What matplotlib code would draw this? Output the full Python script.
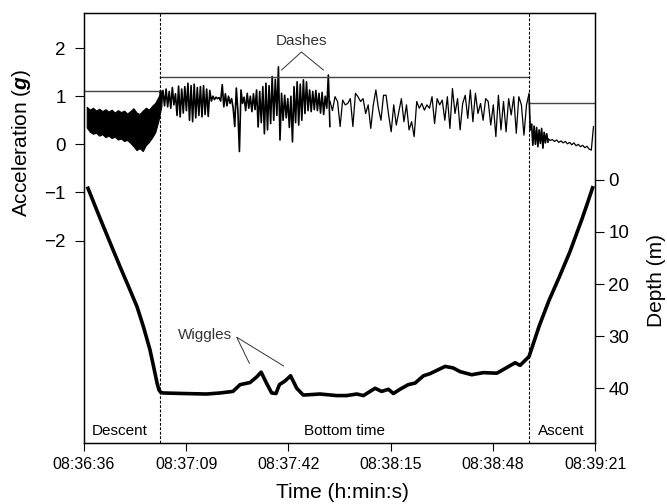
import numpy as np
import matplotlib
matplotlib.use('Agg')
import matplotlib.pyplot as plt
from matplotlib.ticker import FuncFormatter

plt.rcParams['font.family'] = ['Liberation Sans', 'DejaVu Sans']
plt.rcParams['mathtext.fontset'] = 'custom'
plt.rcParams['mathtext.bfit'] = 'Liberation Sans:italic:bold'
plt.rcParams['mathtext.rm'] = 'Liberation Sans'

# time in seconds after 08:36:36
T0 = 8 * 3600 + 36 * 60 + 36
t_descent_end = 24.5
t_ascent_start = 143.7

# acceleration (g) -- descent: dense band, upper / lower envelope
desc_upper = [0.78, 0.72, 0.76, 0.70, 0.74, 0.69, 0.73, 0.68, 0.72, 0.66, 0.71, 0.67, 0.70,
              0.64, 0.69, 0.75, 0.66, 0.63, 0.70, 0.76, 0.72, 0.80, 0.86, 0.98, 1.12]
desc_lower = [0.35, 0.26, 0.22, 0.24, 0.18, 0.21, 0.15, 0.18, 0.13, 0.16, 0.10, 0.12, 0.07,
              0.09, 0.03, -0.04, -0.12, -0.08, -0.14, -0.02, 0.05, 0.14, 0.25, 0.48, 0.80]

# bottom phase, busy first part (08:37:00 - 08:37:55)
bottom_dense = [1.10, 0.85, 1.12, 0.80,
                1.15, 0.78, 1.10, 0.75, 1.18, 0.82, 1.05,
                0.60, 1.21, 0.57, 1.15, 0.65, 1.20, 0.70,
                1.27, 0.50, 1.22, 0.47, 1.25, 0.55, 1.18,
                0.60, 1.20, 0.57, 1.22, 0.62, 1.15, 0.58, 1.12,
                0.90, 1.00, 0.93, 0.98, 0.95, 0.97,
                0.90, 1.24, 0.78, 1.05, 0.80, 1.00, 0.85, 0.95, 0.75,
                0.37, 1.17, 0.70, -0.15, 1.13, 0.85, 0.98, 0.70,
                1.06, 0.75, 1.00, 0.68, 1.05, 0.72,
                1.13, 0.36, 1.10, 0.45, 1.20,
                0.22, 1.27, 0.30, 1.22,
                0.43, 1.41, 0.50, 1.35, 0.60,
                1.61, 0.09,
                1.06, 0.50, 1.02, 0.55, 0.95, 0.35, 1.00,
                0.05, 1.20, 0.45, 1.30, 0.40, 1.25, 0.50,
                1.34, 0.64, 1.30, 0.70,
                1.13, 0.68, 1.10, 0.72, 1.12, 0.70,
                1.06, 0.65, 1.08, 0.62, 1.00, 0.75,
                1.44, 0.37]
t_dense_end = 79.4

# bottom phase, calmer second part
bottom_sparse = [0.90, 0.70, 0.99, 0.89, 0.37, 0.92, 0.82, 0.85, 0.95, 0.37, 1.06, 0.99,
                 0.89, 0.95, 0.64, 0.82, 0.33, 0.82, 1.13, 0.75, 0.50, 1.02, 1.02, 0.61,
                 0.26, 0.82, 0.40, 0.68, 0.95, 0.47, 0.82, 0.30, 0.47, 0.16,
                 0.89, 0.75, 0.85, 0.71, 0.82, 0.75, 0.99, 0.43, 0.95, 0.82, 0.92, 0.50,
                 0.99, 0.33, 1.16, 0.64, 0.95, 0.30, 0.85, 1.02, 0.54, 1.13, 0.47, 1.06,
                 0.64, 0.85, 0.50, 0.95, 0.89, 0.40, 0.82, 0.16, 1.02, 0.30,
                 0.89, 0.26, 0.95, 0.61, 0.99, 0.23, 0.99, 0.82, 0.19, 0.82, 1.06]

# ascent
ascent_dense = [1.00, 0.30, 0.42, -0.02, 0.38, 0.00, 0.35, -0.05, 0.30, 0.02, 0.33, -0.08,
                0.25, 0.03, 0.22, 0.05]
t_ascent_dense_end = 149.8
ascent_tail = [0.12, 0.08, 0.10, 0.06, 0.09, 0.04, 0.07, 0.03, 0.06, 0.01, 0.04, -0.01,
               0.03, -0.03, 0.00, -0.05, -0.02, -0.07, -0.04, -0.10, -0.12, 0.37]
t_end = 164.5

# threshold per phase (descent, bottom, ascent)
thresholds = [1.10, 1.39, 0.865]

# depth profile (s, m)
depth_t = [1.07, 5.2, 9.36, 11.6, 14.4, 17.1, 19.2, 21.3, 22.5, 23.6, 24.2, 24.8, 25.6,
           32.0, 39.6, 43.9, 48.1,
           50.4, 53.6, 55.8, 57.2, 59.0, 60.6, 62.0, 63.1, 64.9, 66.7, 68.7, 70.8, 76.2,
           81.6, 84.8, 88.1, 90.2, 94.0, 96.1, 98.3, 99.9, 102.0, 104.7, 106.9, 109.6,
           111.7, 116.6, 119.2, 121.4, 125.2, 128.9, 133.3, 135.4, 139.2, 140.8, 143.7,
           147.0, 150.1, 153.5, 156.9, 160.8, 162.6, 164.4]
depth_m = [1.3, 7.4, 13.4, 16.6, 20.5, 24.3, 28.2, 32.6, 35.9, 39.0, 40.3, 40.8, 40.9,
           41.0, 41.1, 40.9, 40.6,
           39.3, 38.9, 37.8, 36.9, 39.1, 40.9, 41.0, 39.3, 38.6, 37.6, 40.0, 41.3, 41.1,
           41.4, 41.4, 41.1, 41.4, 40.0, 40.6, 40.2, 41.0, 40.2, 39.3, 39.0, 37.6,
           37.2, 35.8, 36.1, 36.8, 37.4, 37.0, 37.1, 36.4, 35.1, 35.6, 33.9,
           28.0, 23.2, 18.6, 13.8, 7.5, 4.4, 1.2]

fig = plt.figure(figsize=(6.67, 5.04), dpi=100)
ax = fig.add_axes([0.1259, 0.121, 0.7662, 0.8532])
ax2 = ax.twinx()

# acceleration
td = np.linspace(0.9, 25.0, len(desc_upper))
ax.fill_between(td, desc_lower, desc_upper, color='black', lw=0.8)
tb1 = np.linspace(t_descent_end, t_dense_end, len(bottom_dense))
tb2 = np.linspace(t_dense_end, t_ascent_start, len(bottom_sparse))
ta1 = np.linspace(t_ascent_start, t_ascent_dense_end, len(ascent_dense))
ta2 = np.linspace(t_ascent_dense_end, t_end, len(ascent_tail))
ax.plot(tb1, bottom_dense, color='black', lw=1.2)
ax.plot(tb2, bottom_sparse, color='black', lw=0.9)
ax.plot(ta1, ascent_dense, color='black', lw=1.2)
ax.plot(np.concatenate([ta1[-1:], ta2]), np.concatenate([ascent_dense[-1:], ascent_tail]),
        color='black', lw=0.9)

# thresholds
edges = [0, t_descent_end, t_ascent_start, 165]
for i, th in enumerate(thresholds):
    ax.plot([edges[i], edges[i + 1]], [th, th], color='#444444', lw=1.0)

# phase boundaries
for tb in (t_descent_end, t_ascent_start):
    ax.axvline(tb, color='black', lw=0.8, ls=(0, (2.5, 1.5)))

# depth
ax2.plot(depth_t, depth_m, color='black', lw=2.6, solid_capstyle='butt',
         solid_joinstyle='round')

ax.set_xlim(0, 165)
ax.set_ylim(-6.21, 2.73)
ax2.set_ylim(50.5, -32)
ax.set_xticks(np.arange(0, 166, 33))
ax.xaxis.set_major_formatter(FuncFormatter(
    lambda s, p: '%02d:%02d:%02d' % ((T0 + s) // 3600, (T0 + s) % 3600 // 60, (T0 + s) % 60)))
ax.set_yticks([-2, -1, 0, 1, 2])
ax2.set_yticks([0, 10, 20, 30, 40])

ax.tick_params(axis='x', direction='out', length=6, width=0.8, labelsize=11.5, pad=4)
ax.tick_params(axis='y', direction='out', length=6.5, width=0.8, labelsize=13.5, pad=6.5)
ax2.tick_params(axis='y', direction='out', length=6.5, width=0.8, labelsize=13.5, pad=3)
for a in (ax, ax2):
    for sp in a.spines.values():
        sp.set_linewidth(0.9)

ax.text(-0.123, 0.698, r'Acceleration ($\mathbfit{g}$)', transform=ax.transAxes,
        rotation=90, ha='center', va='center', fontsize=15)
ax2.text(1.12, 0.377, 'Depth (m)', transform=ax2.transAxes,
         rotation=90, ha='center', va='center', fontsize=15)
ax.text(0.506, -0.114, 'Time (h:min:s)', transform=ax.transAxes,
        ha='center', va='center', fontsize=15)

# phase labels
ax.text(2.5, -5.96, 'Descent', fontsize=11, ha='left', va='center')
ax.text(84, -5.96, 'Bottom time', fontsize=11, ha='center', va='center')
ax.text(154.2, -5.96, 'Ascent', fontsize=11, ha='center', va='center')

# annotations
ax.text(70.3, 2.15, 'Dashes', fontsize=11, ha='center', va='center', color='#333333')
ax.plot([63.8, 70.2, 77.3], [1.545, 1.92, 1.545], color='#333333', lw=0.7)
ax2.text(39.1, 29.75, 'Wiggles', fontsize=11, ha='center', va='center', color='#333333')
ax2.plot([53.4, 49.3, 64.4], [35.2, 30.2, 35.7], color='#333333', lw=0.7)

fig.savefig('out.png', dpi=100)
